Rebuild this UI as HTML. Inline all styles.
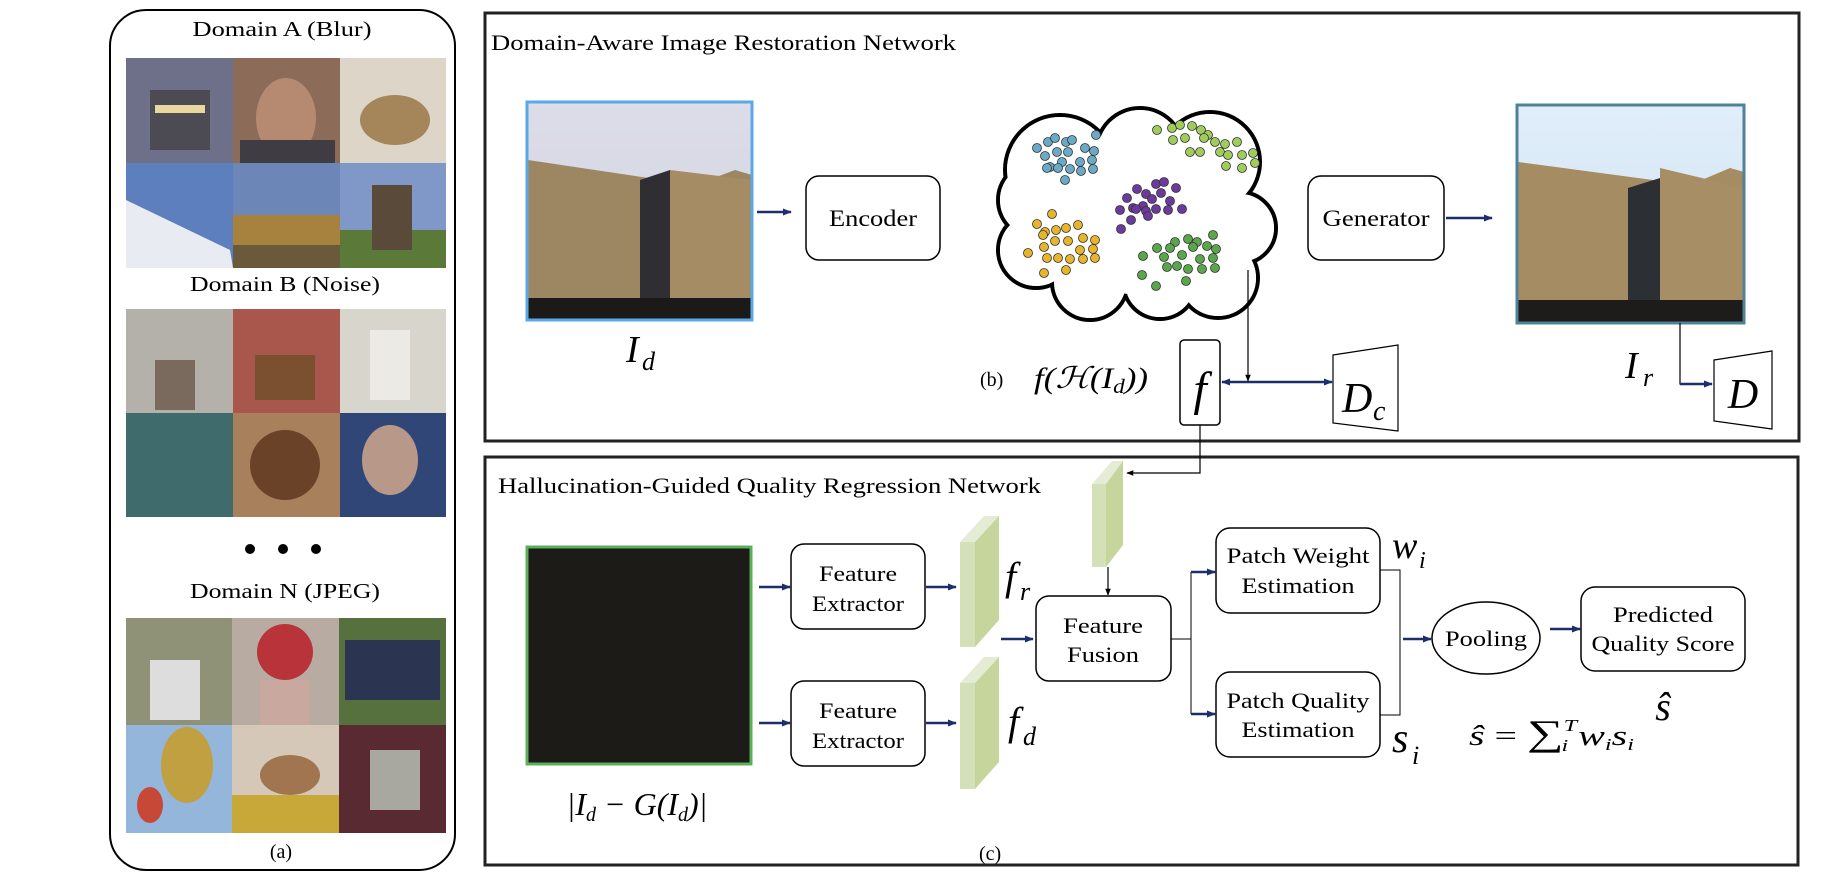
<!DOCTYPE html>
<html><head><meta charset="utf-8"><style>html,body{margin:0;padding:0;background:#fff}svg{display:block}text{font-family:"Liberation Serif",serif;fill:#000}.m{font-style:italic}</style></head><body>
<svg width="1821" height="884" viewBox="0 0 1821 884" xmlns="http://www.w3.org/2000/svg">
<defs>
<marker id="ar" viewBox="0 0 10 10" refX="9" refY="5" markerWidth="9" markerHeight="9" markerUnits="userSpaceOnUse" orient="auto-start-reverse"><path d="M0,1 L10,5 L0,9 z" fill="#1d2f6b"/></marker>
<marker id="ak" viewBox="0 0 10 10" refX="9" refY="5" markerWidth="7" markerHeight="7" markerUnits="userSpaceOnUse" orient="auto"><path d="M0,1 L10,5 L0,9 z" fill="#000"/></marker>
<linearGradient id="sky1" x1="0" y1="0" x2="0" y2="1"><stop offset="0" stop-color="#dcdde8"/><stop offset="1" stop-color="#cfd2de"/></linearGradient>
<linearGradient id="sky2" x1="0" y1="0" x2="0" y2="1"><stop offset="0" stop-color="#dfeefa"/><stop offset="1" stop-color="#d2e2ef"/></linearGradient>
</defs>

<rect x="110" y="10" width="345" height="860" rx="36" fill="#fff" stroke="#000" stroke-width="2"/>
<text x="282" y="36" font-size="21" text-anchor="middle" textLength="179" lengthAdjust="spacingAndGlyphs">Domain A (Blur)</text>
<g>
<rect x="126" y="58" width="107" height="105" fill="#6d7088"/><rect x="150" y="90" width="60" height="60" fill="#4c4a52"/><rect x="155" y="105" width="50" height="8" fill="#e8d8a0"/>
<rect x="233" y="58" width="107" height="105" fill="#8c6c58"/><ellipse cx="286" cy="118" rx="30" ry="40" fill="#b58a70"/><rect x="240" y="140" width="95" height="23" fill="#403c44"/>
<rect x="340" y="58" width="106" height="105" fill="#dcd5c8"/><ellipse cx="395" cy="120" rx="35" ry="25" fill="#a4865a"/>
<rect x="126" y="163" width="107" height="105" fill="#5e7fbd"/><path d="M126,200 L230,250 L233,268 L126,268z" fill="#e8ecf2"/>
<rect x="233" y="163" width="107" height="105" fill="#6d86b8"/><rect x="233" y="215" width="107" height="53" fill="#a7823e"/><rect x="233" y="245" width="107" height="23" fill="#6b5a3a"/>
<rect x="340" y="163" width="106" height="105" fill="#7f98c8"/><rect x="340" y="230" width="106" height="38" fill="#5b7a3a"/><rect x="372" y="185" width="40" height="65" fill="#5a4a3a"/>
</g>
<text x="285" y="291" font-size="21" text-anchor="middle" textLength="190" lengthAdjust="spacingAndGlyphs">Domain B (Noise)</text>
<g>
<rect x="126" y="309" width="107" height="104" fill="#b4b0aa"/><rect x="155" y="360" width="40" height="50" fill="#7a6a5e"/>
<rect x="233" y="309" width="107" height="104" fill="#a9574c"/><rect x="255" y="355" width="60" height="45" fill="#7a5030"/>
<rect x="340" y="309" width="106" height="104" fill="#d8d5cc"/><rect x="370" y="330" width="40" height="70" fill="#eceae4"/>
<rect x="126" y="413" width="107" height="104" fill="#3f6b6c"/>
<rect x="233" y="413" width="107" height="104" fill="#a8805c"/><ellipse cx="285" cy="465" rx="35" ry="35" fill="#6a4228"/>
<rect x="340" y="413" width="106" height="104" fill="#304677"/><ellipse cx="390" cy="460" rx="28" ry="35" fill="#b89888"/>
</g>
<circle cx="250" cy="549" r="5"/><circle cx="283" cy="549" r="5"/><circle cx="316" cy="549" r="5"/>
<text x="285" y="598" font-size="21" text-anchor="middle" textLength="190" lengthAdjust="spacingAndGlyphs">Domain N (JPEG)</text>
<g>
<rect x="126" y="618" width="106" height="107" fill="#8f9276"/><rect x="150" y="660" width="50" height="60" fill="#ddd"/>
<rect x="232" y="618" width="107" height="107" fill="#b8aca2"/><circle cx="285" cy="652" r="28" fill="#b8343a"/><rect x="260" y="680" width="50" height="45" fill="#c9a8a0"/>
<rect x="339" y="618" width="107" height="107" fill="#56703e"/><rect x="345" y="640" width="95" height="60" fill="#2b3552"/>
<rect x="126" y="725" width="106" height="108" fill="#94b6da"/><ellipse cx="187" cy="765" rx="26" ry="38" fill="#c0a040"/><ellipse cx="150" cy="805" rx="13" ry="18" fill="#c84838"/>
<rect x="232" y="725" width="107" height="108" fill="#d5c8b8"/><rect x="232" y="795" width="107" height="38" fill="#c9a83a"/><ellipse cx="290" cy="775" rx="30" ry="20" fill="#a07550"/>
<rect x="339" y="725" width="107" height="108" fill="#5a2a32"/><rect x="370" y="750" width="50" height="60" fill="#a8a8a0"/>
</g>
<text x="281" y="858" font-size="20" text-anchor="middle">(a)</text>

<rect x="485" y="13" width="1314" height="428" fill="none" stroke="#222" stroke-width="3"/>
<text x="491" y="50" font-size="22" textLength="465" lengthAdjust="spacingAndGlyphs">Domain-Aware Image Restoration Network</text>

<g>
<rect x="527" y="102" width="225" height="218" fill="url(#sky1)"/>
<path d="M528,160 L695,185 L735,170 L752,175 L752,300 L528,300z" fill="#9d8763"/>
<path d="M640,180 L670,170 L670,305 L640,300z" fill="#2f2f33"/>
<path d="M670,170 L752,180 L752,305 L670,305z" fill="#a58c64"/>
<rect x="527" y="298" width="225" height="22" fill="#1c1a18"/>
<rect x="527" y="102" width="225" height="218" fill="none" stroke="#5aa9e6" stroke-width="3"/>
</g>
<text x="626" y="362" font-size="38" class="m">I</text><text x="642" y="370" font-size="26" class="m">d</text>
<line x1="757" y1="212" x2="791" y2="212" stroke="#1d2f6b" stroke-width="2.5" marker-end="url(#ar)"/>
<rect x="806" y="176" width="134" height="84" rx="13" fill="#fff" stroke="#000" stroke-width="1.5"/>
<text x="873" y="226" font-size="23" text-anchor="middle" textLength="88" lengthAdjust="spacingAndGlyphs">Encoder</text>

<g stroke="#000" stroke-width="4" fill="#fff">
<circle cx="1060" cy="170" r="55"/><circle cx="1140" cy="152" r="44"/><circle cx="1210" cy="162" r="50"/><circle cx="1240" cy="228" r="36"/><circle cx="1218" cy="278" r="40"/><circle cx="1160" cy="282" r="37"/><circle cx="1090" cy="282" r="38"/><circle cx="1036" cy="250" r="38"/><circle cx="1036" cy="200" r="38"/>
</g>
<g fill="#fff">
<circle cx="1060" cy="170" r="53"/><circle cx="1140" cy="152" r="42"/><circle cx="1210" cy="162" r="48"/><circle cx="1240" cy="228" r="34"/><circle cx="1218" cy="278" r="38"/><circle cx="1160" cy="282" r="35"/><circle cx="1090" cy="282" r="36"/><circle cx="1036" cy="250" r="36"/><circle cx="1036" cy="200" r="36"/><circle cx="1140" cy="215" r="80"/>
</g>
<g stroke="#333" stroke-width="0.8">
<g fill="#6aaac8"><circle cx="1037" cy="148" r="4.5"/><circle cx="1048" cy="142" r="4.5"/><circle cx="1055" cy="138" r="4.5"/><circle cx="1066" cy="142" r="4.5"/><circle cx="1072" cy="140" r="4.5"/><circle cx="1096" cy="135" r="4.5"/><circle cx="1045" cy="156" r="4.5"/><circle cx="1057" cy="152" r="4.5"/><circle cx="1068" cy="152" r="4.5"/><circle cx="1085" cy="148" r="4.5"/><circle cx="1094" cy="151" r="4.5"/><circle cx="1050" cy="167" r="4.5"/><circle cx="1062" cy="162" r="4.5"/><circle cx="1080" cy="162" r="4.5"/><circle cx="1092" cy="160" r="4.5"/><circle cx="1047" cy="168" r="4.5"/><circle cx="1058" cy="168" r="4.5"/><circle cx="1070" cy="169" r="4.5"/><circle cx="1081" cy="171" r="4.5"/><circle cx="1093" cy="169" r="4.5"/><circle cx="1065" cy="180" r="4.5"/></g>
<g fill="#6b3a9c"><circle cx="1127" cy="198" r="4.5"/><circle cx="1137" cy="189" r="4.5"/><circle cx="1146" cy="194" r="4.5"/><circle cx="1156" cy="184" r="4.5"/><circle cx="1164" cy="182" r="4.5"/><circle cx="1176" cy="188" r="4.5"/><circle cx="1133" cy="208" r="4.5"/><circle cx="1143" cy="206" r="4.5"/><circle cx="1152" cy="199" r="4.5"/><circle cx="1161" cy="193" r="4.5"/><circle cx="1170" cy="201" r="4.5"/><circle cx="1120" cy="210" r="4.5"/><circle cx="1136" cy="209" r="4.5"/><circle cx="1146" cy="211" r="4.5"/><circle cx="1156" cy="209" r="4.5"/><circle cx="1168" cy="210" r="4.5"/><circle cx="1182" cy="209" r="4.5"/><circle cx="1148" cy="216" r="4.5"/><circle cx="1131" cy="220" r="4.5"/><circle cx="1121" cy="229" r="4.5"/></g>
<g fill="#e8b52a"><circle cx="1052" cy="214" r="4.5"/><circle cx="1037" cy="224" r="4.5"/><circle cx="1045" cy="232" r="4.5"/><circle cx="1056" cy="230" r="4.5"/><circle cx="1066" cy="228" r="4.5"/><circle cx="1078" cy="225" r="4.5"/><circle cx="1043" cy="235" r="4.5"/><circle cx="1055" cy="241" r="4.5"/><circle cx="1068" cy="241" r="4.5"/><circle cx="1083" cy="238" r="4.5"/><circle cx="1095" cy="240" r="4.5"/><circle cx="1044" cy="247" r="4.5"/><circle cx="1080" cy="250" r="4.5"/><circle cx="1093" cy="249" r="4.5"/><circle cx="1028" cy="253" r="4.5"/><circle cx="1047" cy="258" r="4.5"/><circle cx="1058" cy="258" r="4.5"/><circle cx="1070" cy="259" r="4.5"/><circle cx="1083" cy="259" r="4.5"/><circle cx="1095" cy="258" r="4.5"/><circle cx="1044" cy="273" r="4.5"/><circle cx="1066" cy="270" r="4.5"/></g>
<g fill="#9fcc5a"><circle cx="1157" cy="130" r="4.5"/><circle cx="1172" cy="128" r="4.5"/><circle cx="1180" cy="125" r="4.5"/><circle cx="1192" cy="126" r="4.5"/><circle cx="1201" cy="130" r="4.5"/><circle cx="1208" cy="135" r="4.5"/><circle cx="1173" cy="140" r="4.5"/><circle cx="1185" cy="138" r="4.5"/><circle cx="1204" cy="138" r="4.5"/><circle cx="1215" cy="142" r="4.5"/><circle cx="1225" cy="144" r="4.5"/><circle cx="1237" cy="142" r="4.5"/><circle cx="1190" cy="152" r="4.5"/><circle cx="1200" cy="152" r="4.5"/><circle cx="1220" cy="152" r="4.5"/><circle cx="1228" cy="155" r="4.5"/><circle cx="1242" cy="155" r="4.5"/><circle cx="1253" cy="153" r="4.5"/><circle cx="1226" cy="166" r="4.5"/><circle cx="1242" cy="168" r="4.5"/><circle cx="1255" cy="163" r="4.5"/></g>
<g fill="#5aa64a"><circle cx="1213" cy="235" r="4.5"/><circle cx="1175" cy="242" r="4.5"/><circle cx="1188" cy="239" r="4.5"/><circle cx="1197" cy="242" r="4.5"/><circle cx="1170" cy="248" r="4.5"/><circle cx="1157" cy="248" r="4.5"/><circle cx="1193" cy="247" r="4.5"/><circle cx="1207" cy="246" r="4.5"/><circle cx="1216" cy="249" r="4.5"/><circle cx="1143" cy="256" r="4.5"/><circle cx="1164" cy="257" r="4.5"/><circle cx="1182" cy="255" r="4.5"/><circle cx="1200" cy="259" r="4.5"/><circle cx="1213" cy="258" r="4.5"/><circle cx="1167" cy="267" r="4.5"/><circle cx="1177" cy="266" r="4.5"/><circle cx="1188" cy="269" r="4.5"/><circle cx="1202" cy="269" r="4.5"/><circle cx="1215" cy="268" r="4.5"/><circle cx="1142" cy="275" r="4.5"/><circle cx="1186" cy="281" r="4.5"/><circle cx="1156" cy="286" r="4.5"/></g>
</g>

<text x="980" y="386" font-size="20">(b)</text>
<text x="1034" y="388" font-size="30" class="m" textLength="114" lengthAdjust="spacingAndGlyphs">f(ℋ(I<tspan font-size="20" dy="5">d</tspan><tspan dy="-5">))</tspan></text>

<rect x="1180" y="340" width="40" height="85" rx="4" fill="#fff" stroke="#000" stroke-width="1.5"/>
<text x="1200" y="405" font-size="48" class="m" text-anchor="middle">f</text>
<line x1="1248" y1="270" x2="1248" y2="381" stroke="#000" stroke-width="1.2" marker-end="url(#ak)"/>
<line x1="1222" y1="382" x2="1332" y2="382" stroke="#1d2f6b" stroke-width="2.5" marker-start="url(#ar)" marker-end="url(#ar)"/>
<path d="M1333,355 L1398,345 L1398,431 L1333,423z" fill="#fff" stroke="#000" stroke-width="1.2"/>
<text x="1342" y="412" font-size="42" class="m">D</text><text x="1373" y="420" font-size="28" class="m">c</text>

<rect x="1308" y="176" width="136" height="84" rx="13" fill="#fff" stroke="#000" stroke-width="1.5"/>
<text x="1376" y="226" font-size="23" text-anchor="middle" textLength="107" lengthAdjust="spacingAndGlyphs">Generator</text>
<line x1="1446" y1="218" x2="1492" y2="218" stroke="#1d2f6b" stroke-width="2.5" marker-end="url(#ar)"/>

<g>
<rect x="1517" y="105" width="227" height="218" fill="url(#sky2)"/>
<path d="M1518,162 L1690,185 L1730,168 L1744,172 L1744,305 L1518,300z" fill="#a58c62"/>
<path d="M1628,188 L1660,178 L1660,300 L1628,300z" fill="#2c2f33"/>
<path d="M1660,168 L1744,188 L1744,305 L1660,300z" fill="#a88e64"/>
<rect x="1517" y="300" width="227" height="23" fill="#1e1c1a"/>
<rect x="1517" y="105" width="227" height="218" fill="none" stroke="#4f8198" stroke-width="3"/>
</g>
<text x="1625" y="378" font-size="38" class="m">I</text><text x="1643" y="386" font-size="26" class="m">r</text>
<path d="M1680,323 L1680,384 L1712,384" fill="none" stroke="#000" stroke-width="1.2"/>
<line x1="1680" y1="384" x2="1712" y2="384" stroke="#1d2f6b" stroke-width="2.5" marker-end="url(#ar)"/>
<path d="M1714,360 L1772,351 L1772,429 L1714,421z" fill="#fff" stroke="#000" stroke-width="1.2"/>
<text x="1743" y="408" font-size="42" class="m" text-anchor="middle">D</text>

<rect x="485" y="457" width="1313" height="408" fill="none" stroke="#222" stroke-width="3"/>
<text x="498" y="493" font-size="22" textLength="543" lengthAdjust="spacingAndGlyphs">Hallucination-Guided Quality Regression Network</text>
<path d="M1200,425 L1200,473 L1127,473" fill="none" stroke="#000" stroke-width="1.2" marker-end="url(#ak)"/>

<rect x="527" y="547" width="224" height="217" fill="#1d1b18" stroke="#5cb05a" stroke-width="3"/>
<text x="637" y="815" font-size="32" class="m" text-anchor="middle">|I<tspan font-size="20" dy="6">d</tspan><tspan dy="-6"> − G(I</tspan><tspan font-size="20" dy="6">d</tspan><tspan dy="-6">)|</tspan></text>

<line x1="759" y1="587" x2="790" y2="587" stroke="#1d2f6b" stroke-width="2.5" marker-end="url(#ar)"/>
<line x1="759" y1="723" x2="790" y2="723" stroke="#1d2f6b" stroke-width="2.5" marker-end="url(#ar)"/>
<rect x="791" y="544" width="134" height="85" rx="13" fill="#fff" stroke="#000" stroke-width="1.5"/>
<text x="858" y="581" font-size="22" text-anchor="middle" textLength="78" lengthAdjust="spacingAndGlyphs">Feature</text>
<text x="858" y="611" font-size="22" text-anchor="middle" textLength="92" lengthAdjust="spacingAndGlyphs">Extractor</text>
<rect x="791" y="681" width="134" height="85" rx="13" fill="#fff" stroke="#000" stroke-width="1.5"/>
<text x="858" y="718" font-size="22" text-anchor="middle" textLength="78" lengthAdjust="spacingAndGlyphs">Feature</text>
<text x="858" y="748" font-size="22" text-anchor="middle" textLength="92" lengthAdjust="spacingAndGlyphs">Extractor</text>
<line x1="926" y1="587" x2="956" y2="587" stroke="#1d2f6b" stroke-width="2.5" marker-end="url(#ar)"/>
<line x1="926" y1="723" x2="956" y2="723" stroke="#1d2f6b" stroke-width="2.5" marker-end="url(#ar)"/>

<g>
<path d="M960,542 L984,516 L999,516 L975,542z" fill="#e4ecd6"/><rect x="960" y="542" width="15" height="105" fill="#d4e0b8"/><path d="M975,542 L999,516 L999,620 L975,647z" fill="#c6d59c"/>
<path d="M960,683 L984,657 L999,657 L975,683z" fill="#e4ecd6"/><rect x="960" y="683" width="15" height="106" fill="#d4e0b8"/><path d="M975,683 L999,657 L999,762 L975,789z" fill="#c6d59c"/>
<path d="M1092,484 L1112,461 L1123,461 L1106,484z" fill="#e4ecd6"/><rect x="1092" y="484" width="14" height="83" fill="#d4e0b8"/><path d="M1106,484 L1123,461 L1123,545 L1106,567z" fill="#c6d59c"/>
</g>
<text x="1005" y="590" font-size="40" class="m">f</text><text x="1020" y="600" font-size="26" class="m">r</text>
<text x="1008" y="735" font-size="40" class="m">f</text><text x="1023" y="745" font-size="26" class="m">d</text>
<line x1="1108" y1="567" x2="1108" y2="595" stroke="#000" stroke-width="1.2" marker-end="url(#ak)"/>
<line x1="1001" y1="639" x2="1033" y2="639" stroke="#1d2f6b" stroke-width="2.5" marker-end="url(#ar)"/>
<rect x="1036" y="596" width="135" height="85" rx="13" fill="#fff" stroke="#000" stroke-width="1.5"/>
<text x="1103" y="633" font-size="22" text-anchor="middle" textLength="80" lengthAdjust="spacingAndGlyphs">Feature</text>
<text x="1103" y="662" font-size="22" text-anchor="middle" textLength="72" lengthAdjust="spacingAndGlyphs">Fusion</text>

<path d="M1171,639 L1191,639 M1191,572 L1191,714" fill="none" stroke="#000" stroke-width="1"/>
<line x1="1191" y1="572" x2="1215" y2="572" stroke="#1d2f6b" stroke-width="2.5" marker-end="url(#ar)"/>
<line x1="1191" y1="714" x2="1215" y2="714" stroke="#1d2f6b" stroke-width="2.5" marker-end="url(#ar)"/>
<rect x="1216" y="528" width="164" height="85" rx="14" fill="#fff" stroke="#000" stroke-width="1.5"/>
<text x="1298" y="563" font-size="22" text-anchor="middle" textLength="143" lengthAdjust="spacingAndGlyphs">Patch Weight</text>
<text x="1298" y="593" font-size="22" text-anchor="middle" textLength="113" lengthAdjust="spacingAndGlyphs">Estimation</text>
<rect x="1216" y="672" width="164" height="85" rx="14" fill="#fff" stroke="#000" stroke-width="1.5"/>
<text x="1298" y="708" font-size="22" text-anchor="middle" textLength="143" lengthAdjust="spacingAndGlyphs">Patch Quality</text>
<text x="1298" y="737" font-size="22" text-anchor="middle" textLength="113" lengthAdjust="spacingAndGlyphs">Estimation</text>
<path d="M1380,570 L1400,570 L1400,715 L1380,715" fill="none" stroke="#000" stroke-width="1"/>
<text x="1392" y="558" font-size="38" class="m">w</text><text x="1419" y="568" font-size="24" class="m">i</text>
<text x="1392" y="752" font-size="42" class="m">s</text><text x="1412" y="764" font-size="26" class="m">i</text>
<line x1="1403" y1="639" x2="1431" y2="639" stroke="#1d2f6b" stroke-width="2.5" marker-end="url(#ar)"/>
<ellipse cx="1486" cy="638" rx="54" ry="36" fill="#fff" stroke="#000" stroke-width="1.5"/>
<text x="1486" y="646" font-size="22" text-anchor="middle" textLength="82" lengthAdjust="spacingAndGlyphs">Pooling</text>
<line x1="1550" y1="629" x2="1580" y2="629" stroke="#1d2f6b" stroke-width="2.5" marker-end="url(#ar)"/>
<rect x="1581" y="587" width="164" height="84" rx="14" fill="#fff" stroke="#000" stroke-width="1.5"/>
<text x="1663" y="622" font-size="22" text-anchor="middle" textLength="100" lengthAdjust="spacingAndGlyphs">Predicted</text>
<text x="1663" y="651" font-size="22" text-anchor="middle" textLength="143" lengthAdjust="spacingAndGlyphs">Quality Score</text>
<text x="1663" y="720" font-size="40" class="m" text-anchor="middle">ŝ</text>
<text x="1469" y="745" font-size="28" class="m" textLength="165" lengthAdjust="spacingAndGlyphs">ŝ <tspan font-style="normal">=</tspan> <tspan font-style="normal" font-size="36">∑</tspan><tspan font-size="17" dy="-14">T</tspan><tspan font-size="17" dx="-10" dy="20">i</tspan><tspan dy="-6"> w</tspan><tspan font-size="17" dy="5">i</tspan><tspan dy="-5">s</tspan><tspan font-size="17" dy="5">i</tspan></text>
<text x="979" y="860" font-size="20">(c)</text>
</svg>
</body></html>
